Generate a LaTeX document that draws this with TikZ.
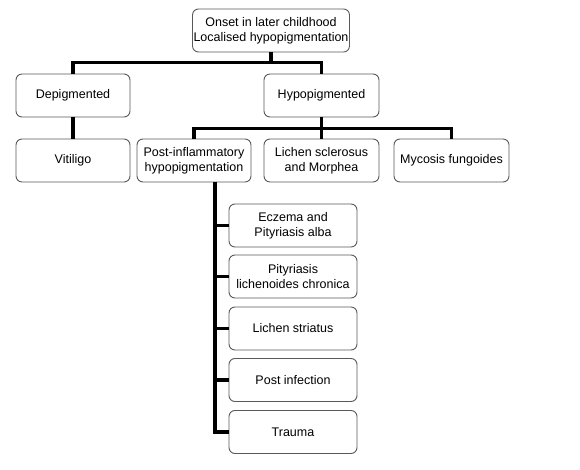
\documentclass[tikz,border=0pt]{standalone}
\usepackage{fontspec}
\setmainfont{Liberation Sans}
\begin{document}
\begin{tikzpicture}[x=1pt,y=-1pt,
  box/.style={draw=black!65, line width=0.9pt, rounded corners=6pt, minimum height=43pt, align=center, inner sep=1pt, font=\fontsize{12.5}{15}\selectfont},
  conn/.style={line width=3.6pt, line cap=rect}]
\useasboundingbox (0,0) rectangle (580,470);
\node[box, minimum width=154pt] (top) at (271,30.5) {Onset in later childhood\\Localised hypopigmentation};
\node[box, minimum width=114pt] (dep) at (73,95.5) {Depigmented};
\node[box, minimum width=115pt] (hyp) at (321.5,95.5) {Hypopigmented};
\node[box, minimum width=114pt] (vit) at (73,160.5) {Vitiligo};
\node[box, minimum width=114pt] (post) at (194,160.5) {Post-inflammatory\\hypopigmentation};
\node[box, minimum width=115pt] (lich) at (321.5,160.5) {Lichen sclerosus\\and Morphea};
\node[box, minimum width=115pt] (myc) at (451.5,160.5) {Mycosis fungoides};
\node[box, minimum width=128pt] (s1) at (293,225.5) {Eczema and\\Pityriasis alba};
\node[box, minimum width=128pt] (s2) at (293,276.5) {Pityriasis\\lichenoides chronica};
\node[box, minimum width=128pt] (s3) at (293,328.5) {Lichen striatus};
\node[box, minimum width=128pt] (s4) at (293,380) {Post infection};
\node[box, minimum width=128pt] (s5) at (293,432) {Trauma};
\coordinate (trunk) at (215,182);
\draw[conn, line cap=butt] (top.south) -- ++(0,10) -| (dep.north);
\draw[conn, line cap=butt] (top.south) -- ++(0,10) -| (hyp.north);
\draw[conn, line cap=butt] (dep.south) -- (vit.north);
\draw[conn, line cap=butt] (hyp.south) -- ++(0,11) -| (post.north);
\draw[conn, line cap=butt] (hyp.south) -- ++(0,11) -| (myc.north);
\draw[conn, line cap=butt] (hyp.south) -- (lich.north);
\draw[conn, line cap=butt] (trunk) |- (s5.west);
\foreach \s in {s1,s2,s3,s4}
  \draw[conn, line cap=butt] (trunk |- \s.west) -- (\s.west);
\end{tikzpicture}
\end{document}
